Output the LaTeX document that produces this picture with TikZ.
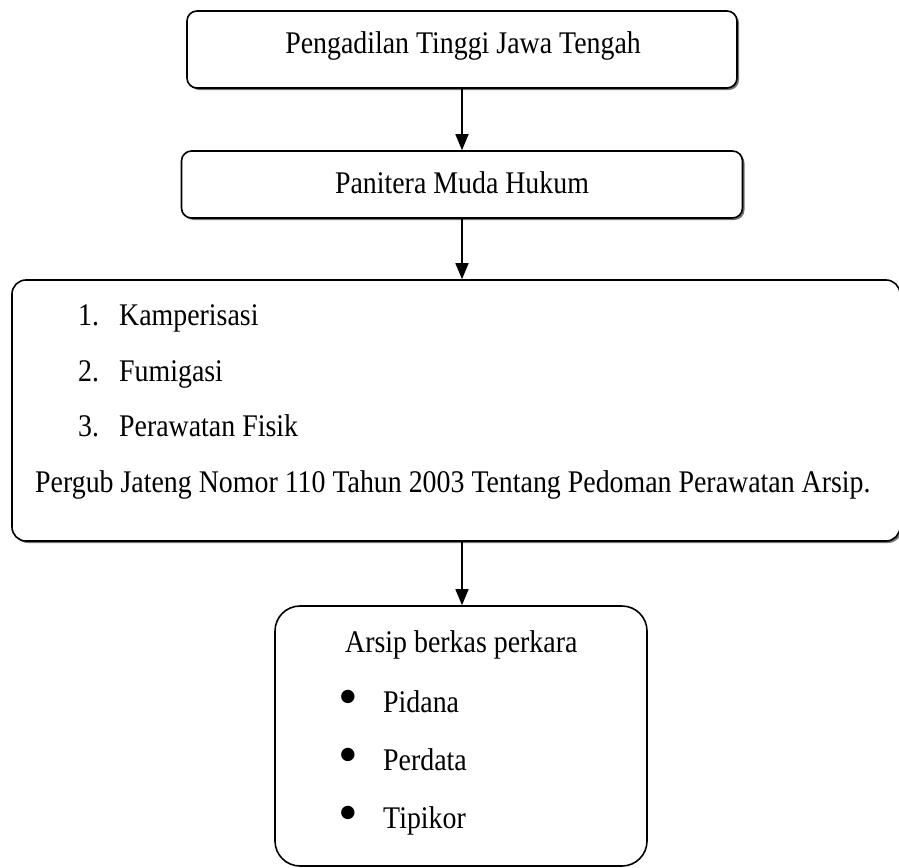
\documentclass[tikz,border=0pt]{standalone}
\usepackage{fontspec}
\setmainfont[FakeStretch=0.885]{Liberation Serif}
\newfontfamily\bulletfont{Liberation Serif}
\usetikzlibrary{arrows.meta,shadows}
\begin{document}
\begin{tikzpicture}[x=1pt,y=-1pt,
  box/.style={draw, line width=1.6pt, fill=white, rounded corners=10pt, inner sep=0pt},
  shadowed/.style={drop shadow={shadow xshift=2pt, shadow yshift=-2pt, fill=black!55, opacity=1}},
  txt/.style={font=\fontsize{31.5}{32}\selectfont, inner sep=0pt},
  bul/.style={font=\bulletfont\fontsize{56}{56}\selectfont, inner sep=0pt, anchor=center},
  arr/.style={line width=1.5pt, -{Triangle[length=16pt,width=13pt]}}]
\useasboundingbox (0,0) rectangle (899,867);
% boxes
\node[box, shadowed, minimum width=550pt, minimum height=77pt] (b1) at (462,49.5) {};
\node[box, shadowed, minimum width=561pt, minimum height=67pt] (b2) at (462,184.5) {};
\node[box, shadowed, rounded corners=14pt, minimum width=888pt, minimum height=261pt] (b3) at (456,410.5) {};
\node[box, rounded corners=25pt, minimum width=372pt, minimum height=260pt] (b4) at (461,736) {};
% texts
\node[txt, anchor=base] (t1) at (463,53) {Pengadilan Tinggi Jawa Tengah};
\node[txt, anchor=base] (t2) at (462,193) {Panitera Muda Hukum};
\node[txt, anchor=base west] (n1) at (78,325) {1.};
\node[txt, anchor=base west] (i1) at (119,325) {Kamperisasi};
\node[txt, anchor=base west] (n2) at (78,381) {2.};
\node[txt, anchor=base west] (i2) at (119,381) {Fumigasi};
\node[txt, anchor=base west] (n3) at (78,436) {3.};
\node[txt, anchor=base west] (i3) at (119,436) {Perawatan Fisik};
\node[txt, anchor=base west] (pg) at (35,492) {Pergub Jateng Nomor 110 Tahun 2003 Tentang Pedoman Perawatan Arsip.};
\node[txt, anchor=base west] (a0) at (345,652) {Arsip berkas perkara};
\node[bul] (bu1) at (348,702.5) {\textbullet};
\node[txt, anchor=base west] (a1) at (383,712) {Pidana};
\node[bul] (bu2) at (348,760.5) {\textbullet};
\node[txt, anchor=base west] (a2) at (383,770) {Perdata};
\node[bul] (bu3) at (348,818.5) {\textbullet};
\node[txt, anchor=base west] (a3) at (383,828) {Tipikor};
% arrows
\draw[arr] (b1.south) -- (b1.south |- b2.north);
\draw[arr] (b2.south) -- (b2.south |- b3.north);
\draw[arr] (b2.south |- b3.south) -- (b2.south |- b4.north);
\end{tikzpicture}
\end{document}
